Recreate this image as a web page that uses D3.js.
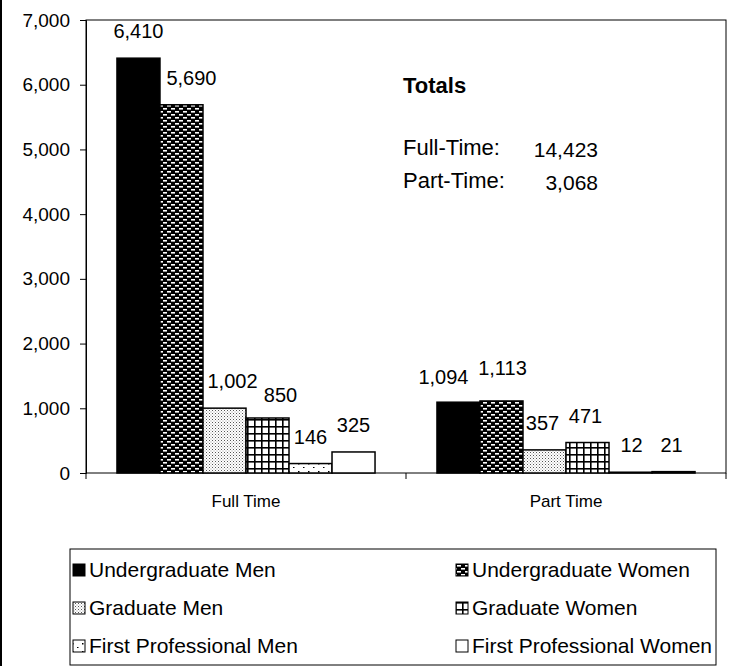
<!DOCTYPE html>
<html>
<head>
<meta charset="utf-8">
<script src="https://cdn.jsdelivr.net/npm/d3@7"></script>
<style>
  html, body { margin: 0; padding: 0; background: #fff; overflow: hidden; }
  svg { display: block; }
  text { font-family: "Liberation Sans", Arial, sans-serif; fill: #000; }
</style>
</head>
<body>
<div id="chart"></div>
<script>
// Data
const categories = ["Full Time", "Part Time"];
const seriesNames = [
	"Undergraduate Men", "Undergraduate Women",
	"Graduate Men", "Graduate Women",
	"First Professional Men", "First Professional Women"
];
const fullTimeValues = [6410, 5690, 1002, 850, 146, 325];
const partTimeValues = [1094, 1113, 357, 471, 12, 21];
const yTicks = [0, 1000, 2000, 3000, 4000, 5000, 6000, 7000];
const totalLabels = ["Full-Time:", "Part-Time:"];
const totalValues = [14423, 3068];

// hand nudges of some value labels (dx, dy), as in the original
const labelNudge = [
	[[0, 0], [10, 0], [8, 0], [13, 4], [0, 0], [0, 0]],
	[[-15, 2], [1, -6], [-2, 0], [-2, 0], [1, 0], [-2, 0]]
];

const width = 729, height = 666;
const margin = { top: 20, right: 3, left: 86, bottom: 193 };
const innerWidth = width - margin.left - margin.right;
const innerHeight = height - margin.top - margin.bottom;

let svg = d3.select("#chart").append("svg")
	.attr("width", width)
	.attr("height", height)
	.attr("font-family", "Liberation Sans, Arial, sans-serif");

// patterns
let defs = svg.append("defs");
function pat(id, w, h, bg) {
	let p = defs.append("pattern").attr("id", id)
		.attr("patternUnits", "userSpaceOnUse")
		.attr("width", w).attr("height", h);
	p.append("rect").attr("width", w).attr("height", h).attr("fill", bg);
	return p;
}
// undergraduate women: black with white staggered dashes
let p1 = pat("pUW", 8, 6, "#000");
p1.append("rect").attr("x", 1).attr("y", 1).attr("width", 4).attr("height", 1.6).attr("fill", "#fff");
p1.append("rect").attr("x", 5).attr("y", 4).attr("width", 4).attr("height", 1.6).attr("fill", "#fff");
p1.append("rect").attr("x", -3).attr("y", 4).attr("width", 4).attr("height", 1.6).attr("fill", "#fff");
// graduate men: fine light stipple
let p2 = pat("pGM", 3, 3, "#fff");
p2.append("rect").attr("x", 0).attr("y", 0).attr("width", 1).attr("height", 1).attr("fill", "#555");
p2.append("rect").attr("x", 1.5).attr("y", 1.5).attr("width", 1).attr("height", 1).attr("fill", "#999");
// graduate women: grid
let p3 = pat("pGW", 7, 7, "#fff");
p3.append("rect").attr("x", 0).attr("y", 0).attr("width", 7).attr("height", 1.6).attr("fill", "#000");
p3.append("rect").attr("x", 0).attr("y", 0).attr("width", 1.6).attr("height", 7).attr("fill", "#000");
// first professional men: sparse dots
let p4 = pat("pFM", 10, 8, "#fff");
p4.append("rect").attr("x", 2).attr("y", 3).attr("width", 1.5).attr("height", 1.5).attr("fill", "#000");
p4.append("rect").attr("x", 7).attr("y", 7).attr("width", 1.5).attr("height", 1.5).attr("fill", "#000");

const fills = ["#000", "url(#pUW)", "url(#pGM)", "url(#pGW)", "url(#pFM)", "#fff"];

// outer chart border (left edge visible)
svg.append("line")
	.attr("x1", 1).attr("x2", 1).attr("y1", 0).attr("y2", height)
	.attr("stroke", "#000").attr("stroke-width", 2);

const g = svg.append("g")
	.attr("transform", "translate(" + margin.left + "," + margin.top + ")");

// scales
let x = d3.scaleBand()
	.domain(categories)
	.range([0, innerWidth]);

let sub = d3.scaleBand()
	.domain(seriesNames)
	.range([0, x.bandwidth()])
	.paddingInner(0)
	.paddingOuter(0.72);

let y = d3.scaleLinear()
	.domain([0, 7000])
	.range([innerHeight, 0]);

// plot area frame
g.append("rect")
	.attr("width", innerWidth).attr("height", innerHeight)
	.attr("fill", "none").attr("stroke", "#000").attr("stroke-width", 1);

// Y Axis
let yAxis = g.append("g")
	.call(d3.axisLeft(y).tickValues(yTicks).tickSize(6).tickPadding(10).tickFormat(d3.format(",")))
	.attr("font-size", 19)
	.attr("font-family", "Liberation Sans, Arial, sans-serif");
yAxis.select(".domain").attr("stroke", "#000");
yAxis.selectAll("text").attr("fill", "#000");

// category boundary ticks
let bounds = categories.map(c => x(c)).concat([x(categories[categories.length - 1]) + x.bandwidth()]);
g.append("g").selectAll("line")
	.data(bounds).enter()
	.append("line")
	.attr("x1", d => d).attr("x2", d => d)
	.attr("y1", innerHeight).attr("y2", innerHeight + 6)
	.attr("stroke", "#000");

// category labels
g.append("g").selectAll("text")
	.data(categories).enter()
	.append("text")
	.attr("x", d => x(d) + x.bandwidth() / 2)
	.attr("y", innerHeight + 34)
	.attr("text-anchor", "middle")
	.attr("font-size", 17)
	.text(d => d);

// bars
const rows = [fullTimeValues, partTimeValues];
let barData = [];
rows.forEach((vals, ci) => {
	vals.forEach((v, si) => {
		barData.push({ cat: categories[ci], ci: ci, si: si, name: seriesNames[si], value: v });
	});
});

g.append("g").selectAll("rect")
	.data(barData).enter()
	.append("rect")
	.attr("x", d => x(d.cat) + sub(d.name))
	.attr("y", d => y(d.value))
	.attr("width", sub.bandwidth())
	.attr("height", d => innerHeight - y(d.value))
	.attr("fill", d => fills[d.si])
	.attr("stroke", "#000")
	.attr("stroke-width", 1.5);

// value labels
g.append("g").selectAll("text")
	.data(barData).enter()
	.append("text")
	.attr("x", d => x(d.cat) + sub(d.name) + sub.bandwidth() / 2 + labelNudge[d.ci][d.si][0])
	.attr("y", d => y(d.value) - 20 + labelNudge[d.ci][d.si][1])
	.attr("text-anchor", "middle")
	.attr("font-size", 20)
	.text(d => d3.format(",")(d.value));

// totals text box (absolute coordinates)
const totX = 403;
svg.append("text")
	.attr("x", totX).attr("y", 93)
	.attr("font-size", 22).attr("font-weight", "bold")
	.text("Totals");
totalLabels.forEach((t, i) => {
	svg.append("text")
		.attr("x", totX).attr("y", 155 + i * 33)
		.attr("font-size", 22)
		.text(t);
	svg.append("text")
		.attr("x", totX + 195).attr("y", 157 + i * 33)
		.attr("text-anchor", "end")
		.attr("font-size", 21)
		.text(d3.format(",")(totalValues[i]));
});

// legend
const legX = 70, legY = 549;
svg.append("rect")
	.attr("x", legX).attr("y", legY)
	.attr("width", 646).attr("height", 116)
	.attr("fill", "#fff").attr("stroke", "#000").attr("stroke-width", 1);

const colX = d => legX + (d % 2 == 0 ? 3 : 386);
const rowY = d => legY + 28 + Math.floor(d / 2) * 38;

svg.selectAll("rect.legend-key")
	.data(seriesNames).enter()
	.append("rect").attr("class", "legend-key")
	.attr("x", (d, i) => colX(i))
	.attr("y", (d, i) => rowY(i) - 13)
	.attr("width", 12).attr("height", 12)
	.attr("fill", (d, i) => fills[i])
	.attr("stroke", "#000").attr("stroke-width", 1);

svg.selectAll("text.legend-label")
	.data(seriesNames).enter()
	.append("text").attr("class", "legend-label")
	.attr("x", (d, i) => colX(i) + 16)
	.attr("y", (d, i) => rowY(i))
	.attr("font-size", 21)
	.text(d => d);
</script>
</body>
</html>
